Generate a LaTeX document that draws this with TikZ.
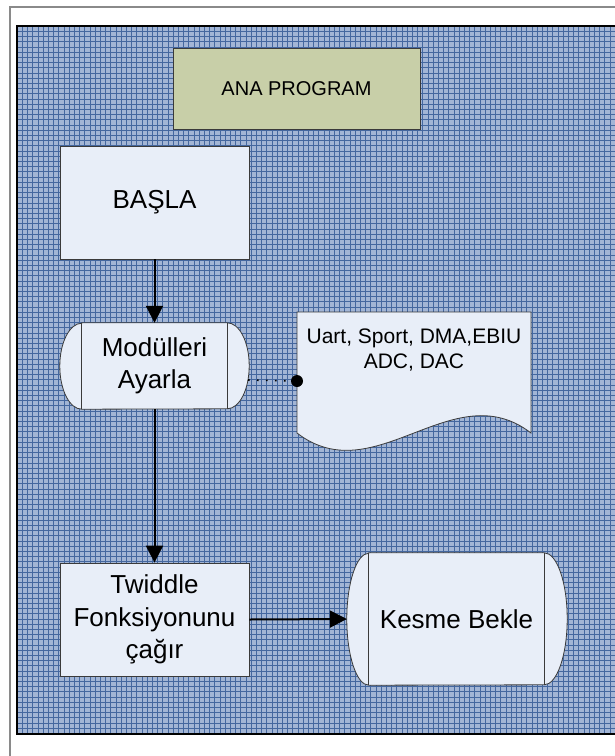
\documentclass[tikz,border=0pt]{standalone}
\usepackage{fontspec}
\setmainfont{Liberation Sans}
\usetikzlibrary{arrows.meta,calc}
\definecolor{gridbg}{HTML}{A2B5D5}
\definecolor{gridln}{HTML}{44679F}
\definecolor{boxfill}{HTML}{E8EEF8}
\definecolor{anafill}{HTML}{C8CFA8}
\definecolor{framegray}{HTML}{8A8A8A}
\definecolor{edge}{HTML}{3A3A3A}
\tikzset{
  procbox/.style={draw=edge, line width=0.8pt, fill=boxfill, inner sep=0pt, align=center,
    font=\fontsize{26}{32.5}\selectfont},
  anabox/.style={draw=edge, line width=0.8pt, fill=anafill, inner sep=0pt, align=center,
    font=\fontsize{20}{24}\selectfont},
  storebody/.style={inner sep=0pt, align=center, font=\fontsize{26}{32}\selectfont},
  shapeline/.style={draw=edge, line width=0.8pt},
  flowarrow/.style={line width=2pt, -{Triangle[length=17pt,width=17pt]}},
  dotline/.style={line width=1.6pt, dash pattern=on 1.6pt off 7.4pt},
}
\begin{document}
\begin{tikzpicture}[x=1pt,y=-1pt]
\useasboundingbox (0,0) rectangle (615,756);
% background grid
\fill[gridbg] (17,26) rectangle (615,734);
\begin{scope}
\clip (17,26) rectangle (615,734);
\foreach \x in {17,22.2,...,620} \draw[gridln, line width=0.5pt] (\x,26) -- (\x,734);
\foreach \y in {26,31.2,...,740} \draw[gridln, line width=0.5pt] (17,\y) -- (615,\y);
\end{scope}
\draw[black, line width=1.2pt] (615,734) -- (17,734) -- (17,26) -- (615,26);
% outer frame
\draw[framegray, line width=1.6pt] (10,756) -- (10,7) -- (615,7);

% title
\node[anabox, minimum width=247pt, minimum height=81pt] (ana) at (296.5,88.5) {ANA PROGRAM};

% BASLA
\node[procbox, minimum width=189pt, minimum height=113pt] (basla) at (154.5,202.5) {BAŞLA};

% Modulleri Ayarla (stored data shape)
\node[storebody, minimum width=145pt, minimum height=86pt] (mod) at (154.5,366) {};
\draw[shapeline, fill=boxfill] (mod.north west) -- (mod.north east)
  arc[start angle=-90, end angle=90, x radius=22, y radius=43]
  -- (mod.south west)
  arc[start angle=90, end angle=270, x radius=22, y radius=43] -- cycle;
\draw[shapeline] (mod.north east) -- (mod.south east);
\draw[shapeline] (mod.north west) -- (mod.south west);
\node[storebody] (modtext) at (mod.center) {Modülleri\\Ayarla};

% document shape
\coordinate (docnw) at (297,312);
\coordinate (docne) at (531,312);
\coordinate (docse) at (531,433);
\coordinate (docsw) at (297,433);
\draw[shapeline, fill=boxfill] (docsw) -- (docnw) -- (docne) -- (docse)
  .. controls (453,373) and (375,493) .. (docsw) -- cycle;
\node[inner sep=0pt, align=center, font=\fontsize{21}{25.7}\selectfont] (doc) at (414,350)
  {Uart, Sport, DMA,EBIU\\ADC, DAC};

% dotted connector
\coordinate (modr) at (248,380);
\coordinate (dotp) at (297,381);
\draw[dotline] (modr) -- (dotp);
\fill (dotp) circle (6);

% Twiddle
\node[procbox, minimum width=189pt, minimum height=113pt] (tw) at (154.5,619.5)
  {Twiddle\\Fonksiyonunu\\çağır};

% Kesme Bekle
\node[storebody, minimum width=175pt, minimum height=132pt] (kes) at (456.5,619) {};
\draw[shapeline, fill=boxfill] (kes.north west) -- (kes.north east)
  arc[start angle=-90, end angle=90, x radius=23, y radius=66]
  -- (kes.south west)
  arc[start angle=90, end angle=270, x radius=22, y radius=66] -- cycle;
\draw[shapeline] (kes.north east) -- (kes.south east);
\draw[shapeline] (kes.north west) -- (kes.south west);
\node[storebody] (kestext) at (kes.center) {Kesme Bekle};
\coordinate (kesl) at ($(kes.west)+(-22,0)$);

% arrows
\draw[flowarrow] (basla.south) -- (mod.north);
\draw[flowarrow] (mod.south) -- (tw.north);
\draw[flowarrow] (tw.east) -- (kesl);
\end{tikzpicture}
\end{document}
